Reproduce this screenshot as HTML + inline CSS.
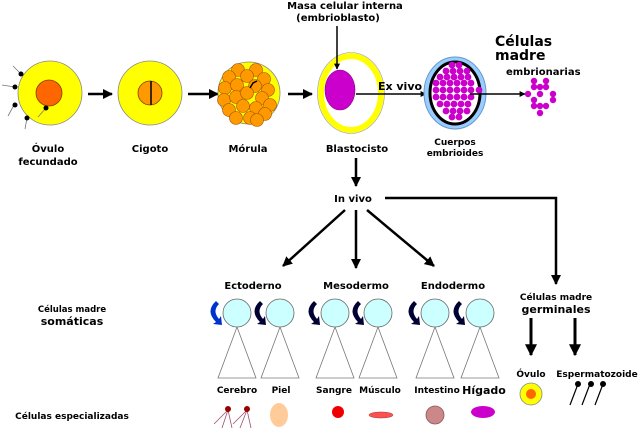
<!DOCTYPE html>
<html><head><meta charset="utf-8"><style>
body{margin:0;background:#fff;}
svg{display:block;font-family:"DejaVu Sans","Liberation Sans",sans-serif;font-weight:bold;}
</style></head><body>
<svg width="640" height="432" viewBox="0 0 640 432">
<defs>
<marker id="a" viewBox="0 0 10 10" refX="9" refY="5" markerWidth="4" markerHeight="4" orient="auto"><path d="M0,0L10,5L0,10z" fill="#000"/></marker>
</defs>
<g font-size="10" text-anchor="middle" fill="#000">
<circle cx="50" cy="93" r="32" fill="#ffff00" stroke="#888" stroke-width="0.8"/>
<circle cx="49" cy="93" r="13" fill="#ff6600" stroke="#804000" stroke-width="0.8"/>
<g stroke="#777" stroke-width="0.8">
<line x1="21" y1="74" x2="13" y2="66"/><line x1="15" y1="87" x2="2" y2="85"/>
<line x1="14" y1="105" x2="8" y2="116"/><line x1="27" y1="118" x2="25" y2="129"/>
<line x1="46" y1="108" x2="38" y2="117"/></g>
<g fill="#000"><circle cx="21" cy="74" r="2.5"/><circle cx="15" cy="87" r="2.5"/><circle cx="15" cy="105" r="2.5"/><circle cx="27" cy="118" r="2.5"/><circle cx="46" cy="108" r="2.5"/></g>
<text x="48" y="152">Óvulo</text><text x="48" y="165">fecundado</text>
<line x1="88" y1="94" x2="112" y2="94" stroke="#000" stroke-width="2.5" marker-end="url(#a)"/>
<circle cx="150" cy="93" r="32" fill="#ffff00" stroke="#888" stroke-width="0.8"/>
<circle cx="150" cy="93" r="12" fill="#ff9900" stroke="#804000" stroke-width="0.8"/>
<line x1="151" y1="81" x2="151" y2="105" stroke="#000" stroke-width="1.5"/>
<text x="150" y="152">Cigoto</text>
<line x1="188" y1="94" x2="218" y2="94" stroke="#000" stroke-width="2.5" marker-end="url(#a)"/>
<circle cx="249" cy="93" r="31" fill="#ffff00" stroke="#888" stroke-width="0.8"/>
<g fill="#ff9900" stroke="#a05000" stroke-width="0.6">
<circle cx="238" cy="70" r="6.5"/><circle cx="256" cy="70" r="6.5"/><circle cx="229" cy="77" r="6.5"/><circle cx="247" cy="76" r="6.5"/><circle cx="264" cy="79" r="6.5"/>
<circle cx="225" cy="88" r="6.5"/><circle cx="237" cy="85" r="6.5"/><circle cx="255" cy="86" r="6.5"/><circle cx="268" cy="90" r="6.5"/>
<circle cx="224" cy="100" r="6.5"/><circle cx="236" cy="97" r="6.5"/><circle cx="247" cy="93" r="6.5"/><circle cx="262" cy="98" r="6.5"/><circle cx="270" cy="105" r="6.5"/>
<circle cx="229" cy="110" r="6.5"/><circle cx="243" cy="106" r="6.5"/><circle cx="256" cy="108" r="6.5"/><circle cx="265" cy="114" r="6.5"/>
<circle cx="236" cy="118" r="6.5"/><circle cx="250" cy="118" r="6.5"/><circle cx="257" cy="120" r="6.5"/>
</g>
<path d="M250,88 l3,-5 l4,-2" stroke="#000" stroke-width="1.5" fill="none"/>
<text x="248" y="152">Mórula</text>
<line x1="288" y1="94" x2="312" y2="94" stroke="#000" stroke-width="2.5" marker-end="url(#a)"/>
<ellipse cx="351" cy="93" rx="30" ry="37" fill="#fff" stroke="#ffff00" stroke-width="6"/>
<ellipse cx="351" cy="93" rx="33.5" ry="40.5" fill="none" stroke="#999" stroke-width="0.6"/>
<ellipse cx="340" cy="90" rx="15" ry="20" fill="#cc00cc" stroke="#800080" stroke-width="0.6"/>
<text x="345" y="9">Masa celular interna</text><text x="338" y="21">(embrioblasto)</text>
<line x1="337" y1="26" x2="337" y2="69" stroke="#000" stroke-width="1.5" marker-end="url(#a)"/>
<text x="357" y="152">Blastocisto</text>
<line x1="356" y1="94" x2="426" y2="94" stroke="#000" stroke-width="1.5" marker-end="url(#a)"/>
<text x="400" y="90" font-size="11">Ex vivo</text>
<ellipse cx="455" cy="93" rx="31" ry="36" fill="#99ccff" stroke="#6699cc" stroke-width="1"/>
<ellipse cx="455" cy="93" rx="25" ry="31" fill="#fff" stroke="#000" stroke-width="3"/>
<g fill="#cc00cc">
<circle cx="452" cy="65" r="3.4"/><circle cx="459" cy="65" r="3.4"/>
<circle cx="446" cy="71" r="3.4"/><circle cx="453" cy="71" r="3.4"/><circle cx="460" cy="71" r="3.4"/><circle cx="467" cy="71" r="3.4"/>
<circle cx="440" cy="77" r="3.4"/><circle cx="447" cy="77" r="3.4"/><circle cx="454" cy="77" r="3.4"/><circle cx="461" cy="77" r="3.4"/><circle cx="468" cy="77" r="3.4"/>
<circle cx="436" cy="83" r="3.4"/><circle cx="443" cy="83" r="3.4"/><circle cx="450" cy="83" r="3.4"/><circle cx="457" cy="83" r="3.4"/><circle cx="464" cy="83" r="3.4"/><circle cx="471" cy="83" r="3.4"/>
<circle cx="436" cy="90" r="3.4"/><circle cx="443" cy="90" r="3.4"/><circle cx="450" cy="90" r="3.4"/><circle cx="457" cy="90" r="3.4"/><circle cx="464" cy="90" r="3.4"/><circle cx="471" cy="90" r="3.4"/><circle cx="479" cy="90" r="3.4"/>
<circle cx="436" cy="97" r="3.4"/><circle cx="443" cy="97" r="3.4"/><circle cx="450" cy="97" r="3.4"/><circle cx="457" cy="97" r="3.4"/><circle cx="464" cy="97" r="3.4"/><circle cx="471" cy="97" r="3.4"/>
<circle cx="440" cy="104" r="3.4"/><circle cx="447" cy="104" r="3.4"/><circle cx="454" cy="104" r="3.4"/><circle cx="461" cy="104" r="3.4"/><circle cx="468" cy="104" r="3.4"/>
<circle cx="446" cy="111" r="3.4"/><circle cx="453" cy="111" r="3.4"/><circle cx="460" cy="111" r="3.4"/><circle cx="467" cy="111" r="3.4"/>
<circle cx="452" cy="117" r="3.4"/><circle cx="459" cy="117" r="3.4"/>
</g>
<text x="455" y="145" font-size="9">Cuerpos</text><text x="455" y="156" font-size="9">embrioides</text>
<line x1="470" y1="94" x2="525" y2="94" stroke="#000" stroke-width="1.5" marker-end="url(#a)"/>
<g fill="#cc00cc">
<circle cx="534" cy="81" r="3.2"/><circle cx="546" cy="81" r="3.2"/><circle cx="540" cy="87" r="3.2"/><circle cx="534" cy="87" r="3.2"/><circle cx="546" cy="87" r="3.2"/>
<circle cx="528" cy="94" r="3.2"/><circle cx="540" cy="94" r="3.2"/><circle cx="553" cy="94" r="3.2"/>
<circle cx="534" cy="100" r="3.2"/><circle cx="553" cy="100" r="3.2"/><circle cx="540" cy="106" r="3.2"/><circle cx="546" cy="106" r="3.2"/><circle cx="534" cy="106" r="3.2"/><circle cx="540" cy="113" r="3.2"/>
</g>
<text x="495" y="46" font-size="14" text-anchor="start">Células</text>
<text x="495" y="60" font-size="14" text-anchor="start">madre</text>
<text x="506" y="75" font-size="10" text-anchor="start">embrionarias</text>
<line x1="356" y1="158" x2="356" y2="186" stroke="#000" stroke-width="2.5" marker-end="url(#a)"/>
<text x="353" y="202">In vivo</text>
<g stroke="#000" stroke-width="2.5" fill="none">
<path d="M385,198 L556,198 L556,284" marker-end="url(#a)"/>
<line x1="345" y1="210" x2="283" y2="266" marker-end="url(#a)"/>
<line x1="356" y1="210" x2="356" y2="268" marker-end="url(#a)"/>
<line x1="367" y1="210" x2="434" y2="266" marker-end="url(#a)"/>
</g>
<text x="253" y="289">Ectoderno</text><text x="356" y="289">Mesodermo</text><text x="453" y="289">Endodermo</text>
<text x="72" y="312" font-size="8.5">Células madre</text><text x="72" y="325" font-size="11">somáticas</text>
<g stroke-width="0">
<path d="M216,301 q-11,10 0,21 l-3,2 l9,1 l-1,-9 l-2,3 q-7,-8 0,-15z" fill="#0033cc"/>
<path d="M260,301 q-11,10 0,21 l-3,2 l9,1 l-1,-9 l-2,3 q-7,-8 0,-15z" fill="#000033"/>
<path d="M314,301 q-11,10 0,21 l-3,2 l9,1 l-1,-9 l-2,3 q-7,-8 0,-15z" fill="#000033"/>
<path d="M358,301 q-11,10 0,21 l-3,2 l9,1 l-1,-9 l-2,3 q-7,-8 0,-15z" fill="#000033"/>
<path d="M414,301 q-11,10 0,21 l-3,2 l9,1 l-1,-9 l-2,3 q-7,-8 0,-15z" fill="#000033"/>
<path d="M459,301 q-11,10 0,21 l-3,2 l9,1 l-1,-9 l-2,3 q-7,-8 0,-15z" fill="#000033"/>
</g>
<g fill="none" stroke="#777" stroke-width="0.8">
<path d="M237,327 L218,378 L256,378Z"/><path d="M280,327 L261,378 L299,378Z"/>
<path d="M335,327 L316,378 L354,378Z"/><path d="M378,327 L359,378 L397,378Z"/>
<path d="M435,327 L416,378 L454,378Z"/><path d="M480,327 L461,378 L499,378Z"/>
</g>
<g fill="#ccffff" stroke="#666" stroke-width="0.8">
<circle cx="237" cy="313" r="14"/><circle cx="280" cy="313" r="14"/><circle cx="335" cy="313" r="14"/>
<circle cx="378" cy="313" r="14"/><circle cx="435" cy="313" r="14"/><circle cx="480" cy="313" r="14"/>
</g>
<g font-size="9">
<text x="237" y="393">Cerebro</text><text x="281" y="393">Piel</text><text x="334" y="393">Sangre</text>
<text x="380" y="393">Músculo</text><text x="437" y="393">Intestino</text>
</g>
<text x="484" y="394" font-size="11">Hígado</text>
<text x="72" y="419" font-size="9">Células especializadas</text>
<g stroke="#a05070" stroke-width="0.8" fill="none">
<path d="M228,410 L222,428 M228,410 L214,424 M228,410 L232,428"/>
<path d="M247,410 L240,428 M247,410 L233,424 M247,410 L251,428"/></g>
<circle cx="228" cy="409" r="3" fill="#990000"/><circle cx="247" cy="409" r="3" fill="#990000"/>
<ellipse cx="279" cy="415" rx="9" ry="12" fill="#ffcc99"/>
<circle cx="338" cy="412" r="6" fill="#ee0000"/>
<ellipse cx="381" cy="415" rx="12" ry="3" fill="#ff5050" stroke="#993333" stroke-width="0.5"/>
<circle cx="435" cy="415" r="9" fill="#cc8888" stroke="#885555" stroke-width="0.8"/>
<ellipse cx="483" cy="412" rx="12" ry="6" fill="#cc00cc"/>
<text x="556" y="300" font-size="9">Células madre</text>
<text x="556" y="313" font-size="11">germinales</text>
<line x1="531" y1="318" x2="531" y2="355" stroke="#000" stroke-width="3" marker-end="url(#a)"/>
<line x1="575" y1="318" x2="575" y2="355" stroke="#000" stroke-width="3" marker-end="url(#a)"/>
<text x="531" y="377" font-size="9">Óvulo</text>
<text x="597" y="377" font-size="9">Espermatozoide</text>
<circle cx="531" cy="394" r="11" fill="#ffff00" stroke="#888" stroke-width="0.8"/>
<circle cx="531" cy="394" r="5" fill="#ff6600"/>
<g stroke="#000" stroke-width="1.2">
<line x1="578" y1="384" x2="570" y2="405"/><line x1="590" y1="384" x2="582" y2="405"/><line x1="603" y1="384" x2="595" y2="405"/></g>
<circle cx="578" cy="384" r="3"/><circle cx="591" cy="384" r="3"/><circle cx="603" cy="384" r="3"/>
</g>
</svg>
</body></html>
